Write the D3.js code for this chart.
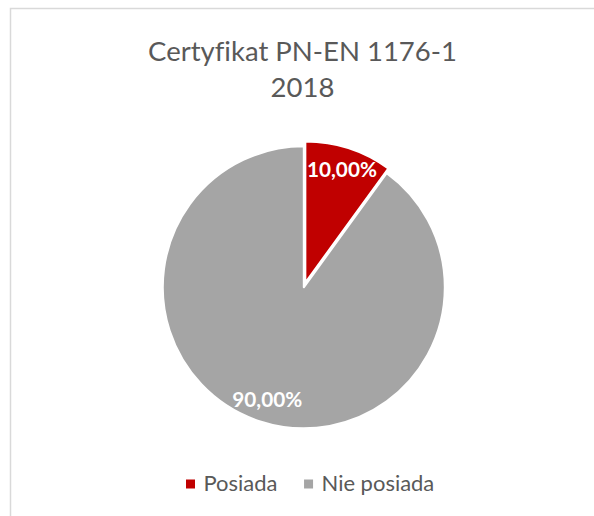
<!DOCTYPE html>
<html><head><meta charset="utf-8">
<script src="https://cdn.jsdelivr.net/npm/d3@7"></script>
<style>html,body{margin:0;padding:0;background:#fff;overflow:hidden}svg{display:block}text{font-variant-ligatures:none;font-feature-settings:"liga" 0}</style>
</head><body>
<script>
const categories = ["Posiada", "Nie posiada"];
const values = [10, 90];
const labels = ["10,00%", "90,00%"];
const colors = ["#C00000", "#A5A5A5"];
const titleLines = ["Certyfikat PN-EN 1176-1", "2018"];

const W = 594, H = 516;
const svg = d3.select("body").append("svg").attr("width", W).attr("height", H);
svg.append("rect").attr("width", W).attr("height", H).attr("fill", "#fff");
svg.append("rect").attr("x", 10.5).attr("y", 8.5).attr("width", W + 20).attr("height", H + 20)
  .attr("fill", "none").attr("stroke", "#D9D9D9").attr("stroke-width", 1.5);

const font = "Lato, Carlito, Calibri, sans-serif";
function fit(sel, target) {
  const fs = parseFloat(sel.attr("font-size"));
  const w = sel.node().getComputedTextLength();
  return fs * target / w;
}

// Title
const t1 = svg.append("text").attr("x", 302.5).attr("y", 60.5).attr("text-anchor", "middle")
  .attr("font-family", font).attr("font-size", 28).attr("fill", "#595959").text(titleLines[0]);
const tfs = fit(t1, 309);
t1.attr("font-size", tfs);
svg.append("text").attr("x", 302.5).attr("y", 96.7).attr("text-anchor", "middle")
  .attr("font-family", font).attr("font-size", tfs).attr("fill", "#595959").text(titleLines[1]);

// Pie
const cx = 303.8, cy = 287.3, r = 141;
const pie = d3.pie().sort(null).value(d => d)(values);
const arc = d3.arc().innerRadius(0).outerRadius(r);
const explode = [5, 0];
const g = svg.append("g").attr("transform", `translate(${cx},${cy})`);
pie.forEach((p, i) => {
  const mid = (p.startAngle + p.endAngle) / 2;
  const dx = Math.sin(mid) * explode[i], dy = -Math.cos(mid) * explode[i];
  const sg = g.append("g").attr("transform", `translate(${dx},${dy})`);
  sg.append("path").attr("d", arc(p)).attr("fill", colors[i])
    .attr("stroke", "#fff").attr("stroke-width", 2).attr("stroke-linejoin", "round");
});
// labels
const lab = d3.arc().innerRadius(r * 0.84).outerRadius(r * 0.84);
let lfs = null;
pie.forEach((p, i) => {
  const mid = (p.startAngle + p.endAngle) / 2;
  const dx = Math.sin(mid) * explode[i], dy = -Math.cos(mid) * explode[i];
  const [lx, ly] = lab.centroid(p);
  const t = g.append("text").attr("x", lx + dx).attr("y", ly + dy).attr("text-anchor", "middle")
    .attr("dy", "0.35em").attr("font-family", font).attr("font-weight", "bold")
    .attr("font-size", 22).attr("fill", "#fff").text(labels[i]);
  if (lfs === null) lfs = fit(t, 70);
  t.attr("font-size", lfs);
});

// Legend
const legG = svg.append("g");
const probe = legG.append("text").attr("font-family", font).attr("font-size", 22).text(categories[0]);
const legFs = fit(probe, 74);
probe.remove();
let x = 0;
categories.forEach((c, i) => {
  const it = legG.append("g");
  it.append("rect").attr("x", x).attr("y", 479.5).attr("width", 9).attr("height", 9).attr("fill", colors[i]);
  const tx = it.append("text").attr("x", x + 17.5).attr("y", 491).attr("font-family", font)
    .attr("font-size", legFs).attr("fill", "#595959").text(c);
  x += 17.5 + tx.node().getComputedTextLength() + 26.6;
});
legG.attr("transform", `translate(186,0)`);
</script>
</body></html>
